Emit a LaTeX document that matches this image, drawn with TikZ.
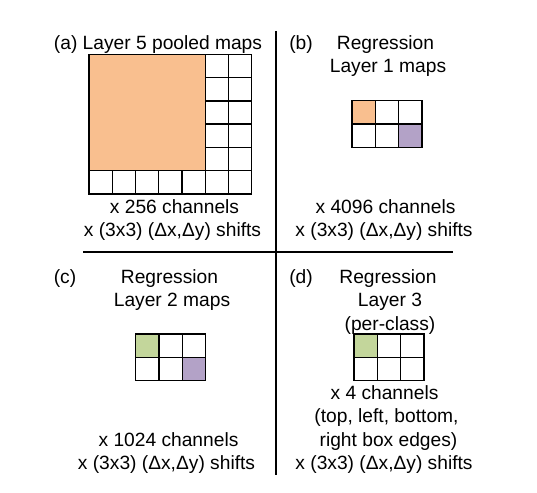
\documentclass[tikz,border=0pt]{standalone}
\usepackage{fontspec}
\setmainfont{Liberation Sans}
\definecolor{orng}{HTML}{F9BF8F}
\definecolor{purp}{HTML}{B3A2C7}
\definecolor{grn}{HTML}{C3D69B}
\tikzset{
  lbl/.style={inner sep=0pt, anchor=base, font=\fontsize{19.2}{23}\selectfont},
  cellline/.style={line width=1.4pt, draw=black},
  divider/.style={line width=2pt, draw=black}
}
\newcommand{\smallgrid}[4]{% x y  colour-top-left colour-bottom-right
  \begin{scope}[shift={(#1,#2)}]
  \fill[#3] (0,0) rectangle (23.3,23.3);
  \fill[#4] (46.6,23.3) rectangle (69.9,46.6);
  \foreach \r in {0,1} {
    \foreach \c in {0,1,2} {
      \draw[cellline] (\c*23.3,\r*23.3) rectangle ++(23.3,23.3);
    }
  }
  \end{scope}
}
\begin{document}
\begin{tikzpicture}[x=1pt,y=-1pt]
\useasboundingbox[fill=white] (0,0) rectangle (537,492);
% dividers
\coordinate (vt) at (275.7,31);
\coordinate (vb) at (275.7,475);
\coordinate (hl) at (83.3,252.3);
\coordinate (hr) at (452.7,252.3);
\draw[divider] (vt) -- (vb);
\draw[divider] (hl) -- (hr);
% panel (a)
\fill[orng] (89,54.3) rectangle ++(116.25,116.25);
\begin{scope}[shift={(89,54.3)}]
  \foreach \r in {0,...,4} {
    \foreach \c in {5,6} {
      \draw[cellline] (\c*23.25,\r*23.25) rectangle ++(23.25,23.25);
    }
  }
  \foreach \c in {0,...,6} {
    \draw[cellline] (\c*23.25,5*23.25) rectangle ++(23.25,23.25);
  }
  \draw[cellline] (0,0) rectangle (116.25,116.25);
\end{scope}
\node[lbl] (ta) at (158,50) {(a) Layer 5 pooled maps};
\node[lbl] (a1) at (174.5,213.5) {x 256 channels};
\node[lbl] (a2) at (172.5,236.5) {x (3x3) (Δx,Δy) shifts};
% panel (b)
\smallgrid{352}{100.7}{orng}{purp}
\node[lbl] (lb) at (301,50) {(b)};
\node[lbl] (tb1) at (385.5,50) {Regression};
\node[lbl] (tb2) at (388,73) {Layer 1 maps};
\node[lbl] (b1) at (385.5,213.5) {x 4096 channels};
\node[lbl] (b2) at (384,236.5) {x (3x3) (Δx,Δy) shifts};
% panel (c)
\smallgrid{135.7}{334}{grn}{purp}
\node[lbl] (lc) at (65,283) {(c)};
\node[lbl] (tc1) at (169.5,283) {Regression};
\node[lbl] (tc2) at (172,306.5) {Layer 2 maps};
\node[lbl] (c1) at (168.5,446.5) {x 1024 channels};
\node[lbl] (c2) at (166.5,469.3) {x (3x3) (Δx,Δy) shifts};
% panel (d)
\smallgrid{354}{334}{grn}{white}
\node[lbl] (ld) at (301,283) {(d)};
\node[lbl] (td1) at (388,283) {Regression};
\node[lbl] (td2) at (390,306.5) {Layer 3};
\node[lbl] (td3) at (390,330) {(per-class)};
\node[lbl] (d1) at (384.5,399.3) {x 4 channels};
\node[lbl] (d2) at (386.5,422.7) {(top, left, bottom,};
\node[lbl] (d3) at (388.5,446) {right box edges)};
\node[lbl] (d4) at (384,469.3) {x (3x3) (Δx,Δy) shifts};
\end{tikzpicture}
\end{document}
